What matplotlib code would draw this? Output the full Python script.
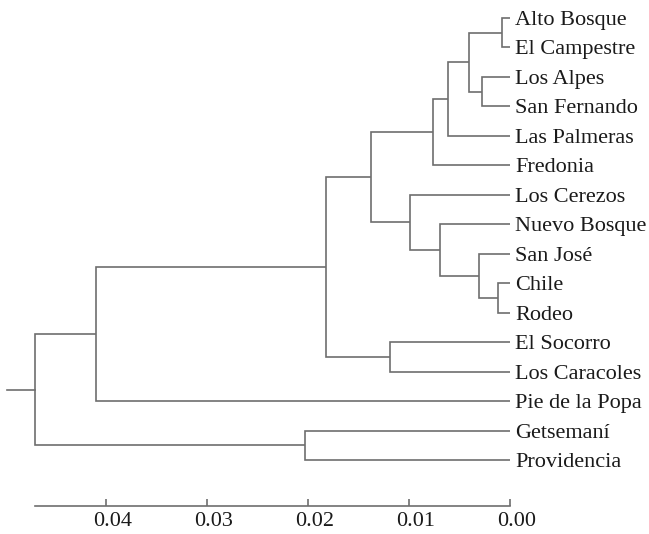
import matplotlib.pyplot as plt
from matplotlib.transforms import ScaledTranslation

# Hojas del dendrograma, de arriba hacia abajo
leaves = ['Alto Bosque', 'El Campestre', 'Los Alpes', 'San Fernando',
          'Las Palmeras', 'Fredonia', 'Los Cerezos', 'Nuevo Bosque',
          'San José', 'Chile', 'Rodeo', 'El Socorro', 'Los Caracoles',
          'Pie de la Popa', 'Getsemaní', 'Providencia']

# Uniones: (nodo izquierdo, nodo derecho, altura, nombre del nuevo nodo)
merge_left = ['Alto Bosque', 'Los Alpes', 'n1', 'n3', 'n4', 'Chile',
              'San José', 'Nuevo Bosque', 'Los Cerezos', 'n5', 'El Socorro',
              'n10', 'n12', 'Getsemaní', 'n13']
merge_right = ['El Campestre', 'San Fernando', 'n2', 'Las Palmeras',
               'Fredonia', 'Rodeo', 'n6', 'n7', 'n8', 'n9', 'Los Caracoles',
               'n11', 'Pie de la Popa', 'Providencia', 'n14']
merge_height = [0.0008, 0.0028, 0.0041, 0.0061, 0.0076, 0.0012, 0.0031,
                0.0069, 0.0099, 0.0138, 0.0119, 0.0182, 0.0410, 0.0203,
                0.0470]
merge_name = ['n1', 'n2', 'n3', 'n4', 'n5', 'n6', 'n7', 'n8', 'n9', 'n10',
              'n11', 'n12', 'n13', 'n14', 'n15']
root_stub = 0.0498

ticks = [0.04, 0.03, 0.02, 0.01, 0.00]
tick_labels = ['0.04', '0.03', '0.02', '0.01', '0.00']

plt.rcParams['font.family'] = ['Liberation Serif', 'DejaVu Serif']
line_color = '#6e6e6e'
text_color = '#1a1a1a'

fig = plt.figure(figsize=(6.49, 5.34), dpi=100)
ax = fig.add_axes([0, 28 / 534, 1, 506 / 534])

# posición (x, y) de cada nodo
pos = {name: (0.0, i) for i, name in enumerate(leaves)}
for a, b, h, n in zip(merge_left, merge_right, merge_height, merge_name):
    xa, ya = pos[a]
    xb, yb = pos[b]
    ax.plot([xa, h, h, xb], [ya, ya, yb, yb], color=line_color, lw=1.2,
            solid_capstyle='butt', solid_joinstyle='miter')
    pos[n] = (h, (ya + yb) / 2)

xr, yr = pos[merge_name[-1]]
ax.plot([xr, root_stub], [yr, yr], color=line_color, lw=1.2)

for i, name in enumerate(leaves):
    ax.annotate(name, (0, i), xytext=(3.6, 0), textcoords='offset points',
                va='center_baseline', ha='left', fontsize=16,
                color=text_color)

ax.set_xlim(0.0505, -0.01376)
ax.set_ylim(15 + 46 / 29.47, -18 / 29.47)

for s in ['top', 'right', 'left']:
    ax.spines[s].set_visible(False)
ax.spines['bottom'].set_bounds(0, merge_height[-1])
ax.spines['bottom'].set_color(line_color)
ax.spines['bottom'].set_linewidth(1.2)
ax.set_yticks([])
ax.set_xticks(ticks)
ax.set_xticklabels(tick_labels)
ax.tick_params(axis='x', direction='in', length=5, width=1.2,
               color=line_color, labelsize=16, labelcolor=text_color, pad=4)
shift = ScaledTranslation(5 / 72, 0, fig.dpi_scale_trans)
for lab in ax.get_xticklabels():
    lab.set_transform(lab.get_transform() + shift)

fig.savefig('out.png', dpi=100)
